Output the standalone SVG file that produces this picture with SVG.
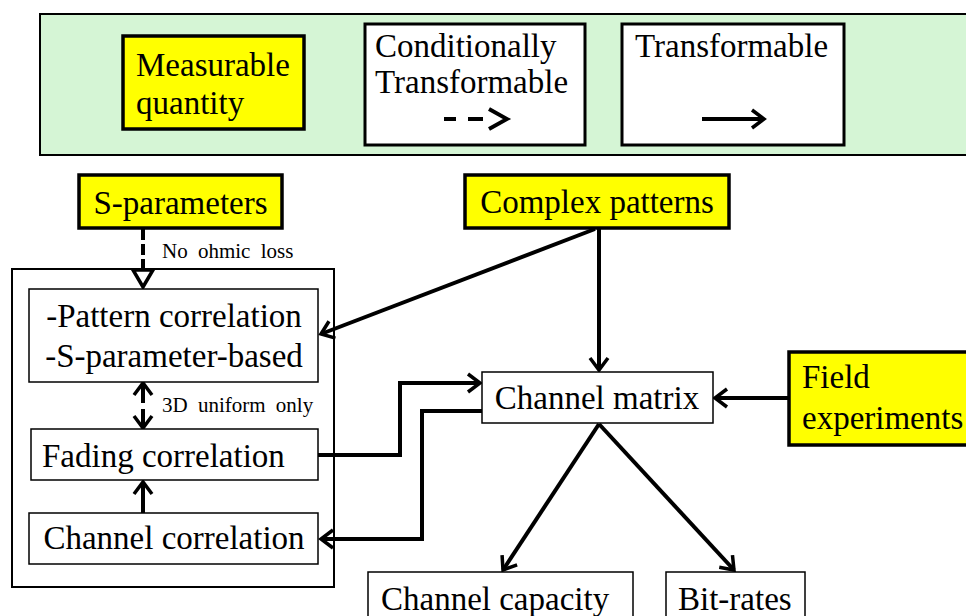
<svg xmlns="http://www.w3.org/2000/svg" width="966" height="616" viewBox="0 0 966 616" font-family="'Liberation Serif', 'Times New Roman', Times, serif">
<style>
text{font-family:"Liberation Serif","Times New Roman",Times,serif;fill:#000}
.t{font-size:33px}
.s{font-size:21px;word-spacing:5px}
.meas{fill:#ffff00;stroke:#000;stroke-width:3.5}
.box{fill:#fff;stroke:#000;stroke-width:1.5}
.lbox{fill:#fff;stroke:#000;stroke-width:3}
.c{fill:none;stroke:#000;stroke-width:4;stroke-linejoin:miter}
</style>
<defs>
<marker id="a" markerUnits="userSpaceOnUse" markerWidth="30" markerHeight="30" viewBox="-15 -15 30 30" refX="0" refY="0" orient="auto-start-reverse">
<path d="M-12,-9 L0,0 L-12,9" fill="none" stroke="#000" stroke-width="3.5"/>
</marker>
</defs>
<rect width="966" height="616" fill="#fff"/>
<g id="legend">
<rect x="40" y="14" width="940" height="141" fill="#d5f5d5" stroke="#000" stroke-width="2"/>
<g id="legend-measurable">
<rect x="123" y="36" width="181" height="93" class="meas"/>
<text class="t" x="136" y="76">Measurable</text>
<text class="t" x="136" y="114">quantity</text>
</g>
<g id="legend-conditional">
<rect x="365" y="24" width="220" height="121" class="lbox"/>
<text class="t" x="375" y="57">Conditionally</text>
<text class="t" x="375" y="93">Transformable</text>
<path d="M444,119 H456 M468,119 H483" class="c"/>
<polyline points="489,109 507,119 489,129" class="c"/>
</g>
<g id="legend-transformable">
<rect x="622" y="24" width="222" height="121" class="lbox"/>
<text class="t" x="635" y="57">Transformable</text>
<line x1="702" y1="119" x2="764" y2="119" class="c" marker-end="url(#a)"/>
</g>
</g>
<g id="connectors">
<line x1="143" y1="229" x2="143" y2="271" class="c" stroke-dasharray="11 4"/>
<polygon points="133,270 153,270 143,287" fill="#fff" stroke="#000" stroke-width="3.5"/>
<text class="s" x="162" y="258">No ohmic loss</text>
<line x1="143" y1="383" x2="143" y2="428" class="c" stroke-dasharray="20 6" marker-start="url(#a)" marker-end="url(#a)"/>
<text class="s" x="162" y="412">3D uniform only</text>
<line x1="143" y1="513" x2="143" y2="482" class="c" marker-end="url(#a)"/>
<line x1="595" y1="229" x2="321" y2="334" class="c" marker-end="url(#a)"/>
<line x1="599" y1="229" x2="599" y2="370" class="c" marker-end="url(#a)"/>
<polyline points="318,455 400,455 400,383 480,383" class="c" marker-end="url(#a)"/>
<polyline points="482,411 422,411 422,539 321,539" class="c" marker-end="url(#a)"/>
<line x1="789" y1="398" x2="715" y2="398" class="c" marker-end="url(#a)"/>
<line x1="599" y1="424" x2="503" y2="570" class="c" marker-end="url(#a)"/>
<line x1="599" y1="424" x2="734" y2="570" class="c" marker-end="url(#a)"/>
</g>
<g id="s-parameters">
<rect x="79" y="175" width="203" height="53" class="meas"/>
<text class="t" x="180.5" y="214" text-anchor="middle">S-parameters</text>
</g>
<g id="complex-patterns">
<rect x="465" y="175" width="264" height="53" class="meas"/>
<text class="t" x="597" y="213" text-anchor="middle">Complex patterns</text>
</g>
<g id="correlation-group">
<rect x="12" y="269" width="322" height="318" fill="none" stroke="#000" stroke-width="2"/>
</g>
<g id="pattern-correlation">
<rect x="29" y="289" width="289" height="93" class="box"/>
<text class="t" x="174" y="327" text-anchor="middle">-Pattern correlation</text>
<text class="t" x="174" y="367" text-anchor="middle">-S-parameter-based</text>
</g>
<g id="fading-correlation">
<rect x="31" y="429" width="287" height="51" class="box"/>
<text class="t" x="42" y="467">Fading correlation</text>
</g>
<g id="channel-correlation">
<rect x="29" y="513" width="289" height="51" class="box"/>
<text class="t" x="174" y="549" text-anchor="middle">Channel correlation</text>
</g>
<g id="channel-matrix">
<rect x="482" y="372" width="231" height="51" class="box"/>
<text class="t" x="597" y="409" text-anchor="middle">Channel matrix</text>
</g>
<g id="field-experiments">
<rect x="789" y="352" width="200" height="93" class="meas"/>
<text class="t" x="802" y="388">Field</text>
<text class="t" x="802" y="429">experiments</text>
</g>
<g id="channel-capacity">
<rect x="368" y="572" width="265" height="60" class="box"/>
<text class="t" x="381" y="610">Channel capacity</text>
</g>
<g id="bit-rates">
<rect x="666" y="572" width="139" height="60" class="box"/>
<text class="t" x="678" y="610">Bit-rates</text>
</g>
</svg>
